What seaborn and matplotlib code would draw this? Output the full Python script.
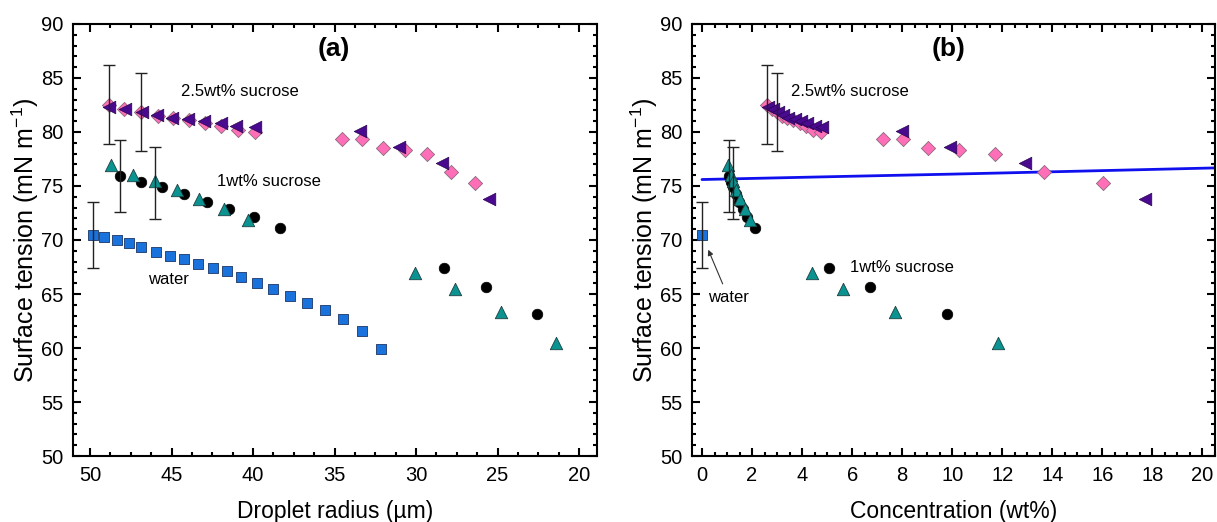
import numpy as np
import pandas as pd
import matplotlib
matplotlib.use("Agg")
import matplotlib.pyplot as plt
from matplotlib.ticker import MultipleLocator, AutoMinorLocator
import seaborn as sns

# ---------------- data ----------------
# water
water_r = [49.83, 49.12, 48.35, 47.59, 46.87, 45.93, 45.1, 44.24, 43.41, 42.49,
           41.62, 40.74, 39.75, 38.75, 37.76, 36.67, 35.6, 34.51, 33.33, 32.14]
water_st = [70.47, 70.31, 70.0, 69.69, 69.38, 68.91, 68.54, 68.2, 67.77, 67.42,
            67.09, 66.53, 66.03, 65.44, 64.82, 64.17, 63.55, 62.68, 61.53, 59.92]
water_c = [0.0]
water_c_st = [70.5]

# 1 wt% sucrose, run 1 (black circles)
s1a_r = [48.15, 46.87, 45.57, 44.24, 42.84, 41.46, 39.96, 38.33, 28.29, 25.68, 22.59]
s1a_c = [1.08, 1.15, 1.24, 1.34, 1.47, 1.62, 1.8, 2.1, 5.07, 6.72, 9.79]
s1a_st = [75.89, 75.33, 74.9, 74.25, 73.56, 72.86, 72.11, 71.14, 67.37, 65.66, 63.12]

# 1 wt% sucrose, run 2 (teal triangles)
s1b_r = [48.7, 47.36, 45.99, 44.69, 43.31, 41.81, 40.33, 30.08, 27.61, 24.8, 21.4]
s1b_c = [1.05, 1.15, 1.25, 1.37, 1.52, 1.7, 1.9, 4.39, 5.65, 7.72, 11.81]
s1b_st = [76.98, 76.05, 75.42, 74.65, 73.79, 72.86, 71.86, 66.9, 65.5, 63.33, 60.45]

# 2.5 wt% sucrose, run 1 (pink diamonds)
s25a_r = [48.87, 47.94, 46.9, 45.85, 44.9, 43.93, 42.96, 41.98, 40.94, 39.88,
          34.57, 33.33, 32.04, 30.7, 29.32, 27.84, 26.38]
s25a_c = [2.6, 2.8, 3.0, 3.2, 3.4, 3.65, 3.9, 4.15, 4.45, 4.75,
          7.25, 8.05, 9.05, 10.25, 11.69, 13.65, 16.01]
s25a_st = [82.47, 82.09, 81.84, 81.47, 81.32, 81.1, 80.86, 80.54, 80.23, 79.98,
           79.37, 79.37, 78.53, 78.31, 77.97, 76.3, 75.28]

# 2.5 wt% sucrose, run 2 (purple triangles)
s25b_r = [48.87, 47.84, 46.8, 45.9, 44.96, 44.0, 43.0, 41.98, 41.05, 39.9,
          33.44, 31.07, 28.44, 25.51]
s25b_c = [2.62, 2.82, 3.02, 3.22, 3.45, 3.7, 3.95, 4.2, 4.5, 4.8,
          7.99, 9.92, 12.92, 17.72]
s25b_st = [82.34, 82.09, 81.88, 81.56, 81.32, 81.23, 81.0, 80.79, 80.6, 80.48,
           80.07, 78.6, 77.13, 73.79]

# error bars
err_r = [48.87, 46.9, 48.15, 45.99, 49.83]
err_c = [2.6, 3.0, 1.08, 1.25, 0.0]
err_st = [82.55, 81.86, 75.9, 75.3, 70.5]
err_size = [3.65, 3.58, 3.35, 3.35, 3.05]

# blue line (panel b)
line_c = [0.0, 5.5, 10.0, 15.0, 20.6]
line_st = [75.6, 75.88, 76.1, 76.37, 76.68]

# ---------------- styling ----------------
sns.set_style("ticks")
plt.rcParams["font.family"] = ["Liberation Sans", "DejaVu Sans"]
plt.rcParams["mathtext.default"] = "regular"
plt.rcParams["axes.linewidth"] = 1.5
for key in ["text.color", "axes.labelcolor", "xtick.color", "ytick.color"]:
    plt.rcParams[key] = "black"

pink, purple, teal, blue = "#ff6fb7", "#4a0a8f", "#0a9391", "#1a72dc"

fig = plt.figure(figsize=(12.17, 5.22), dpi=100)
ax_a = fig.add_axes([73 / 1217, 66 / 522, 524 / 1217, 432 / 522])
ax_b = fig.add_axes([692 / 1217, 66 / 522, 523 / 1217, 432 / 522])


def draw(ax, xw, xs1a, xs1b, xs25a, xs25b, xerr):
    sns.scatterplot(x=xw, y=water_st if len(xw) > 1 else water_c_st, ax=ax,
                    marker="s", s=50, color=blue, edgecolor="#1a3566", linewidth=0.6, zorder=3)
    sns.scatterplot(x=xs1a, y=s1a_st, ax=ax, marker="o", s=58, color="black",
                    edgecolor="black", linewidth=0.5, zorder=3)
    sns.scatterplot(x=xs1b, y=s1b_st, ax=ax, marker="^", s=80, color=teal,
                    edgecolor="#1d4040", linewidth=0.6, zorder=4)
    sns.scatterplot(x=xs25a, y=s25a_st, ax=ax, marker="D", s=52, color=pink,
                    edgecolor="#8a6a7e", linewidth=0.6, zorder=3)
    sns.scatterplot(x=xs25b, y=s25b_st, ax=ax, marker="<", s=82, color=purple,
                    edgecolor="#2a0650", linewidth=0.5, zorder=4)
    ax.errorbar(xerr, err_st, yerr=err_size, fmt="none", ecolor="#222222",
                elinewidth=1.0, capsize=4.5, capthick=1.0, zorder=5)

    ax.set_ylim(50, 90)
    ax.yaxis.set_major_locator(MultipleLocator(5))
    ax.yaxis.set_minor_locator(AutoMinorLocator(5))
    ax.xaxis.set_minor_locator(AutoMinorLocator(4))
    ax.tick_params(which="both", direction="in", top=True, right=True,
                   labelsize=14.5, width=1.5, pad=7)
    ax.tick_params(which="major", length=6)
    ax.tick_params(which="minor", length=3)
    ax.set_ylabel("Surface tension (mN m$^{-1}$)", fontsize=18, labelpad=0)
    for sp in ax.spines.values():
        sp.set_visible(True)
        sp.set_linewidth(1.5)
        sp.set_color("black")


# panel (a): vs droplet radius
draw(ax_a, water_r, s1a_r, s1b_r, s25a_r, s25b_r, err_r)
ax_a.set_xlim(51.05, 18.9)
ax_a.xaxis.set_major_locator(MultipleLocator(5))
ax_a.set_xlabel("Droplet radius (\u00b5m)", fontsize=16.5, labelpad=11)
ax_a.text(0.498, 0.943, "(a)", transform=ax_a.transAxes, ha="center", va="center",
          fontsize=19, fontweight="bold")
ax_a.text(44.45, 83.75, "2.5wt% sucrose", fontsize=12, va="center", ha="left")
ax_a.text(42.2, 75.42, "1wt% sucrose", fontsize=12, va="center", ha="left")
ax_a.text(45.2, 66.3, "water", fontsize=12, va="center", ha="center")

# panel (b): vs concentration
draw(ax_b, water_c, s1a_c, s1b_c, s25a_c, s25b_c, err_c)
sns.lineplot(x=line_c, y=line_st, ax=ax_b, color="#1010ee", linewidth=2, zorder=2)
ax_b.set_xlim(-0.4, 20.5)
ax_b.xaxis.set_major_locator(MultipleLocator(2))
ax_b.set_xlabel("Concentration (wt%)", fontsize=16.5, labelpad=11)
ax_b.text(0.49, 0.943, "(b)", transform=ax_b.transAxes, ha="center", va="center",
          fontsize=19, fontweight="bold")
ax_b.text(3.55, 83.75, "2.5wt% sucrose", fontsize=12, va="center", ha="left")
ax_b.text(5.9, 67.5, "1wt% sucrose", fontsize=12, va="center", ha="left")
ax_b.annotate("water", xy=(0.25, 69.1), xytext=(1.05, 64.7), fontsize=12,
              ha="center", va="center",
              arrowprops=dict(arrowstyle="-|>", color="#333333", lw=0.8,
                              shrinkA=2, shrinkB=0, mutation_scale=8))

fig.savefig("out.png", dpi=100)
